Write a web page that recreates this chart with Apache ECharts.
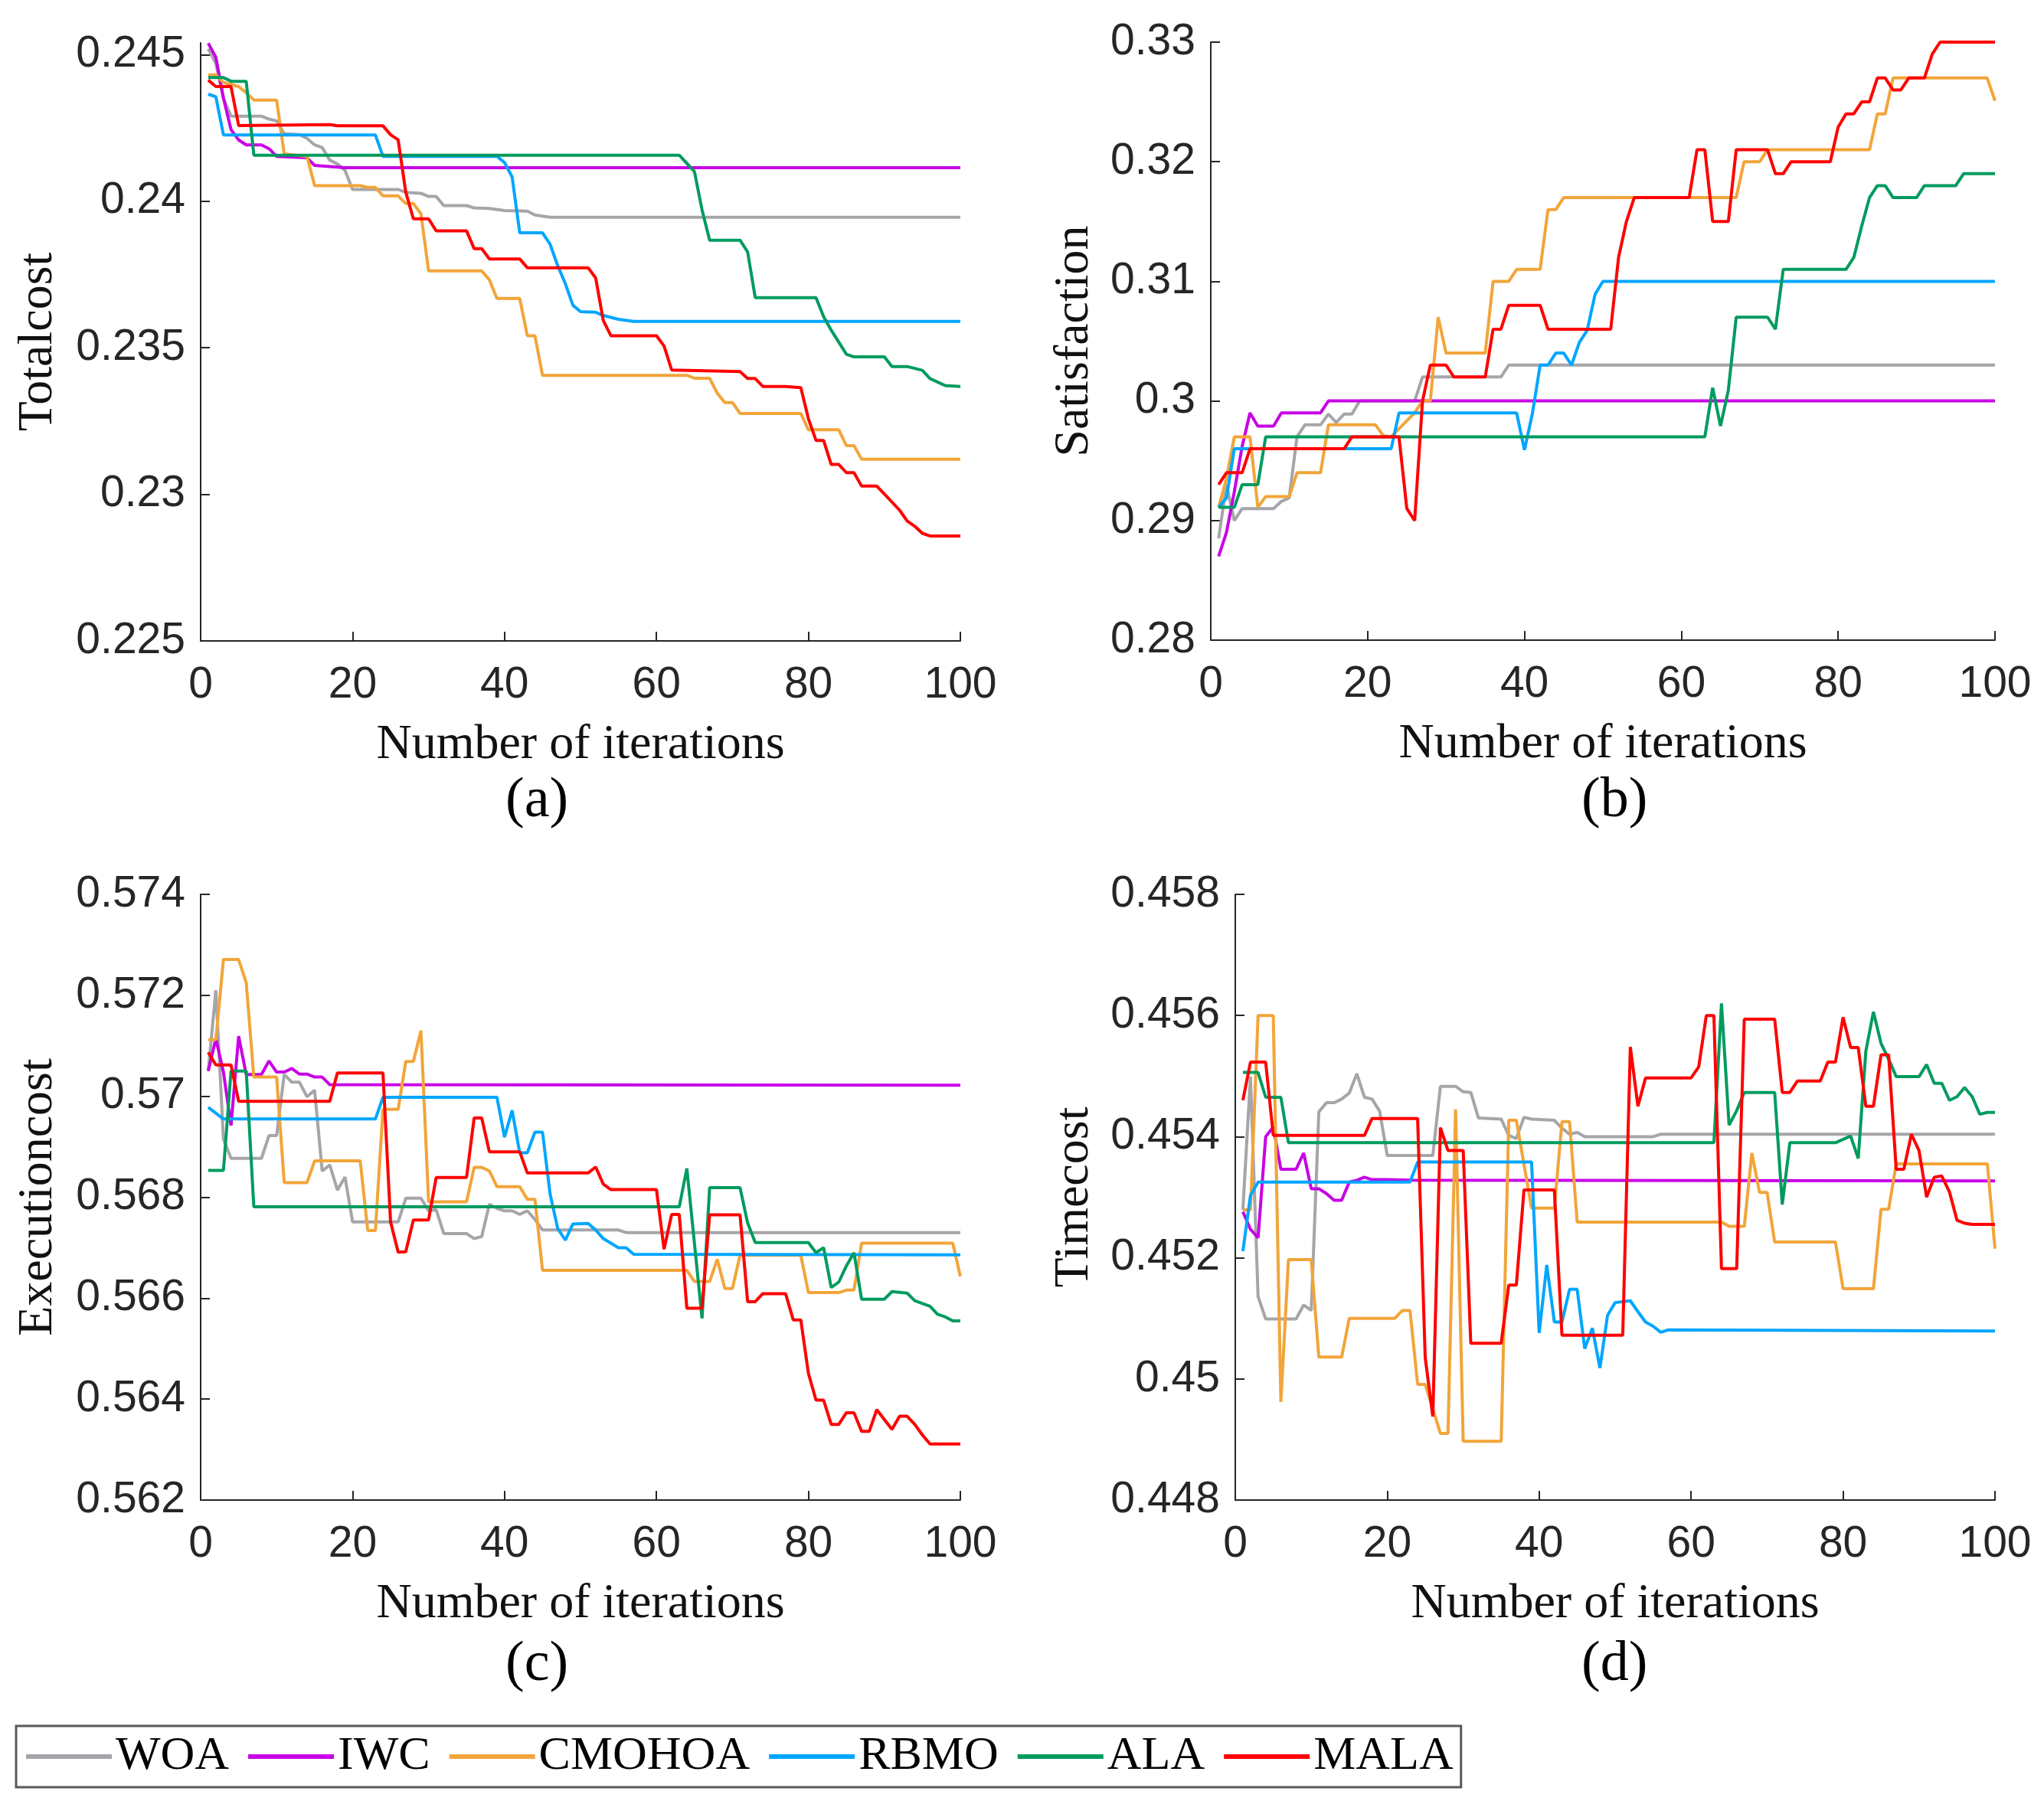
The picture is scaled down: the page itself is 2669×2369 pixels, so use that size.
<!DOCTYPE html>
<html>
<head>
<meta charset="utf-8">
<title>Convergence curves</title>
<script src="https://cdn.jsdelivr.net/npm/echarts@6.0.0/dist/echarts.min.js"></script>
<style>
html,body{margin:0;padding:0;background:#fff;}
#main{width:2669px;height:2369px;}
</style>
</head>
<body>
<div id="main"></div>
<script>
// algorithm names, drawing order = legend order
var algNames = ['WOA', 'IWC', 'CMOHOA', 'RBMO', 'ALA', 'MALA'];

// y tick labels per panel
var ticksTotal = [0.225, 0.23, 0.235, 0.24, 0.245];
var ticksSatis = [0.28, 0.29, 0.3, 0.31, 0.32, 0.33];
var ticksExec = [0.562, 0.564, 0.566, 0.568, 0.57, 0.572, 0.574];
var ticksTime = [0.448, 0.45, 0.452, 0.454, 0.456, 0.458];
var ticksIter = [0, 20, 40, 60, 80, 100];

// (a) Totalcost  -- [iteration, value]
var totalWOA = [[1,0.2452],[2,0.2447],[3,0.2435],[4,0.2429],[8,0.2429],[9,0.2428],[10,0.24274],[11,0.2423],[13,0.24227],[14,0.24214],[15,0.24192],[16,0.24183],[17,0.2414],[18,0.24127],[19,0.24105],[20,0.2404],[26,0.2404],[27,0.2403],[29,0.24027],[30,0.24016],[31,0.24016],[32,0.23985],[35,0.23985],[36,0.23977],[38,0.23975],[40,0.23968],[43,0.23966],[44,0.23953],[46,0.23945],[100,0.23945]];
var totalIWC = [[1,0.24539],[2,0.24491],[3,0.24352],[4,0.24244],[5,0.24209],[6,0.24192],[8,0.24192],[9,0.24179],[10,0.24153],[14,0.24148],[15,0.24122],[17,0.24118],[19,0.24114],[100,0.24114]];
var totalCMOHOA = [[1,0.24431],[2,0.24431],[3,0.24405],[5,0.24391],[6,0.2437],[7,0.24345],[10,0.24345],[11,0.24161],[14,0.24153],[15,0.24053],[21,0.24053],[22,0.24047],[23,0.24047],[24,0.24018],[26,0.24018],[27,0.23992],[28,0.23992],[29,0.23957],[30,0.23762],[37,0.23762],[38,0.23732],[39,0.23668],[42,0.23668],[43,0.23541],[44,0.23541],[45,0.23406],[64,0.23406],[65,0.23396],[67,0.23396],[68,0.23345],[69,0.23313],[70,0.23313],[71,0.23276],[79,0.23276],[80,0.2322],[84,0.2322],[85,0.23166],[86,0.23166],[87,0.2312],[100,0.2312]];
var totalRBMO = [[1,0.24365],[2,0.24356],[3,0.24226],[23,0.24226],[24,0.24153],[39,0.24153],[40,0.24132],[41,0.24083],[42,0.23892],[45,0.23892],[46,0.23853],[47,0.2378],[48,0.23719],[49,0.23645],[50,0.23623],[52,0.23621],[53,0.2361],[55,0.23597],[57,0.2359],[100,0.2359]];
var totalALA = [[1,0.24422],[3,0.24422],[4,0.24409],[6,0.24409],[7,0.24157],[63,0.24157],[65,0.24101],[66,0.2397],[67,0.23867],[71,0.23867],[72,0.23827],[73,0.23671],[81,0.23671],[82,0.23606],[83,0.2356],[85,0.23478],[86,0.23469],[90,0.23469],[91,0.23436],[93,0.23436],[95,0.23423],[96,0.23395],[98,0.23371],[100,0.23368]];
var totalMALA = [[1,0.24413],[2,0.24391],[4,0.24391],[5,0.24258],[17,0.24261],[18,0.24257],[24,0.24257],[25,0.24227],[26,0.24209],[27,0.24031],[28,0.2394],[30,0.2394],[31,0.23899],[35,0.23899],[36,0.23838],[37,0.23838],[38,0.23803],[42,0.23803],[43,0.23773],[51,0.23773],[52,0.23738],[53,0.23593],[54,0.23541],[60,0.23541],[61,0.23506],[62,0.23424],[71,0.23419],[72,0.23395],[73,0.23395],[74,0.23368],[77,0.23368],[79,0.23364],[80,0.23258],[81,0.23184],[82,0.23184],[83,0.23102],[84,0.23102],[85,0.23074],[86,0.23074],[87,0.23028],[89,0.23028],[90,0.23001],[92,0.22946],[93,0.22909],[94,0.22891],[95,0.22867],[96,0.22858],[100,0.22858]];

// (b) Satisfaction
var satisWOA = [[1,0.2885],[2,0.293],[3,0.29],[4,0.291],[8,0.291],[9,0.2916],[10,0.2919],[11,0.297],[12,0.298],[14,0.298],[15,0.2989],[16,0.2982],[17,0.2989],[18,0.2989],[19,0.3],[26,0.3],[27,0.302],[37,0.302],[38,0.303],[100,0.303]];
var satisIWC = [[1,0.287],[2,0.289],[3,0.2924],[4,0.2962],[5,0.299],[6,0.2979],[8,0.2979],[9,0.299],[14,0.299],[15,0.3],[100,0.3]];
var satisCMOHOA = [[1,0.2911],[2,0.2935],[3,0.297],[5,0.297],[6,0.2911],[7,0.292],[10,0.292],[11,0.294],[14,0.294],[15,0.298],[21,0.298],[22,0.2971],[23,0.297],[26,0.299],[27,0.3],[28,0.3],[29,0.307],[30,0.304],[35,0.304],[36,0.31],[38,0.31],[39,0.311],[42,0.311],[43,0.316],[44,0.316],[45,0.317],[67,0.317],[68,0.32],[70,0.32],[71,0.321],[84,0.321],[85,0.324],[86,0.324],[87,0.327],[99,0.327],[100,0.3251]];
var satisRBMO = [[1,0.2911],[2,0.2919],[3,0.296],[23,0.296],[24,0.299],[39,0.299],[40,0.2959],[41,0.2989],[42,0.303],[43,0.303],[44,0.304],[45,0.304],[46,0.303],[47,0.3049],[48,0.3059],[49,0.3089],[50,0.31],[100,0.31]];
var satisALA = [[1,0.2911],[3,0.2911],[4,0.293],[6,0.293],[7,0.297],[63,0.297],[64,0.3011],[65,0.2979],[66,0.3009],[67,0.307],[71,0.307],[72,0.306],[73,0.311],[81,0.311],[82,0.312],[83,0.3146],[84,0.317],[85,0.318],[86,0.318],[87,0.317],[90,0.317],[91,0.318],[95,0.318],[96,0.319],[100,0.319]];
var satisMALA = [[1,0.293],[2,0.294],[4,0.294],[5,0.296],[17,0.296],[18,0.297],[24,0.297],[25,0.291],[26,0.29],[27,0.3],[28,0.303],[30,0.303],[31,0.302],[35,0.302],[36,0.306],[37,0.306],[38,0.308],[42,0.308],[43,0.306],[51,0.306],[52,0.312],[53,0.315],[54,0.317],[61,0.317],[62,0.321],[63,0.321],[64,0.315],[66,0.315],[67,0.321],[71,0.321],[72,0.319],[73,0.319],[74,0.32],[79,0.32],[80,0.3229],[81,0.324],[82,0.324],[83,0.325],[84,0.325],[85,0.327],[86,0.327],[87,0.326],[88,0.326],[89,0.327],[91,0.327],[92,0.329],[93,0.33],[100,0.33]];

// (c) Executioncost
var execWOA = [[1,0.5705],[2,0.5721],[3,0.56915],[4,0.56877],[8,0.56877],[9,0.56922],[10,0.56922],[11,0.57043],[12,0.57028],[13,0.57028],[14,0.56999],[15,0.57012],[16,0.56852],[17,0.56864],[18,0.56814],[19,0.5684],[20,0.56751],[26,0.56751],[27,0.56798],[29,0.56798],[30,0.56773],[31,0.56775],[32,0.56728],[35,0.56728],[36,0.56718],[37,0.56722],[38,0.56786],[39,0.56778],[40,0.56773],[41,0.56773],[42,0.56766],[43,0.56773],[44,0.56756],[45,0.56735],[55,0.56735],[56,0.5673],[100,0.5673]];
var execIWC = [[1,0.5705],[2,0.57114],[3,0.57048],[4,0.56942],[5,0.57119],[6,0.57043],[8,0.57043],[9,0.5707],[10,0.57048],[11,0.57048],[12,0.57055],[13,0.57044],[14,0.57044],[15,0.57038],[16,0.57038],[17,0.57023],[100,0.57022]];
var execCMOHOA = [[1,0.57112],[2,0.57112],[3,0.57271],[5,0.57271],[6,0.57225],[7,0.57038],[10,0.57038],[11,0.56829],[14,0.56829],[15,0.56872],[21,0.56872],[22,0.56734],[23,0.56734],[24,0.56974],[26,0.56974],[27,0.57069],[28,0.57069],[29,0.5713],[30,0.56791],[35,0.56791],[36,0.56859],[37,0.56859],[38,0.56852],[39,0.56821],[42,0.56821],[43,0.56796],[44,0.56796],[45,0.56655],[64,0.56655],[65,0.56633],[67,0.56633],[68,0.56677],[69,0.56619],[70,0.56619],[71,0.56685],[79,0.56685],[80,0.56611],[84,0.56611],[85,0.56616],[86,0.56616],[87,0.56709],[99,0.56709],[100,0.56643]];
var execRBMO = [[1,0.56978],[3,0.56955],[23,0.56955],[24,0.56998],[39,0.56998],[40,0.56919],[41,0.56972],[42,0.56888],[43,0.56888],[44,0.56929],[45,0.56929],[46,0.56806],[47,0.56738],[48,0.56715],[49,0.56747],[51,0.56748],[52,0.56735],[53,0.56718],[55,0.567],[56,0.567],[57,0.56687],[100,0.56686]];
var execALA = [[1,0.56853],[3,0.56853],[4,0.5705],[6,0.5705],[7,0.56781],[63,0.56781],[64,0.56857],[66,0.5656],[67,0.56819],[71,0.56819],[72,0.56749],[73,0.5671],[80,0.5671],[81,0.5669],[82,0.567],[83,0.56621],[84,0.56632],[85,0.56664],[86,0.5669],[87,0.56598],[90,0.56598],[91,0.56613],[93,0.5661],[94,0.56595],[96,0.56584],[97,0.56568],[98,0.56563],[99,0.56555],[100,0.56555]];
var execMALA = [[1,0.57087],[2,0.57062],[4,0.57062],[5,0.5699],[17,0.5699],[18,0.57046],[24,0.57046],[25,0.56751],[26,0.56691],[27,0.56692],[28,0.56755],[30,0.56755],[31,0.56839],[35,0.56839],[36,0.56957],[37,0.56957],[38,0.5689],[42,0.5689],[43,0.56848],[51,0.56848],[52,0.5686],[53,0.56826],[54,0.56815],[60,0.56815],[61,0.56697],[62,0.56766],[63,0.56766],[64,0.5658],[66,0.5658],[67,0.56765],[71,0.56765],[72,0.56593],[73,0.56593],[74,0.56609],[77,0.56609],[78,0.56557],[79,0.56557],[80,0.56451],[81,0.56398],[82,0.56398],[83,0.5635],[84,0.5635],[85,0.56373],[86,0.56373],[87,0.56336],[88,0.56336],[89,0.56379],[91,0.5634],[92,0.56366],[93,0.56366],[94,0.5635],[95,0.56329],[96,0.56311],[100,0.56311]];

// (d) Timecost
var timeWOA = [[1,0.45279],[2,0.45499],[3,0.45136],[4,0.45099],[8,0.45099],[9,0.45122],[10,0.45113],[11,0.45441],[12,0.45456],[13,0.45456],[14,0.45462],[15,0.45472],[16,0.45504],[17,0.45465],[18,0.45462],[19,0.45442],[20,0.45369],[26,0.45369],[27,0.45483],[29,0.45483],[30,0.45474],[31,0.45473],[32,0.45431],[35,0.45429],[36,0.45402],[37,0.45397],[38,0.45432],[39,0.45429],[42,0.45427],[43,0.45414],[44,0.45404],[45,0.45407],[46,0.454],[55,0.454],[56,0.45404],[100,0.45404]];
var timeIWC = [[1,0.45276],[2,0.45247],[3,0.45233],[4,0.454],[5,0.45416],[6,0.45346],[8,0.45346],[9,0.45373],[10,0.45314],[11,0.45314],[12,0.45306],[13,0.45295],[14,0.45295],[15,0.45325],[16,0.45328],[17,0.45333],[18,0.45329],[20,0.45329],[23,0.45328],[100,0.45327]];
var timeCMOHOA = [[1,0.45279],[2,0.45279],[3,0.456],[5,0.456],[6,0.44962],[7,0.45197],[10,0.45197],[11,0.45036],[14,0.45036],[15,0.451],[21,0.451],[22,0.45113],[23,0.45113],[24,0.44991],[25,0.44991],[27,0.4491],[28,0.4491],[29,0.45445],[30,0.44897],[35,0.44897],[36,0.45427],[37,0.45427],[39,0.45282],[42,0.45282],[43,0.45425],[44,0.45425],[45,0.45259],[64,0.45259],[65,0.45252],[67,0.45252],[68,0.45373],[69,0.45308],[70,0.45308],[71,0.45226],[79,0.45226],[80,0.45149],[84,0.45149],[85,0.4528],[86,0.4528],[87,0.45355],[99,0.45355],[100,0.45215]];
var timeRBMO = [[1,0.45211],[2,0.45303],[3,0.45325],[23,0.45325],[24,0.45358],[39,0.45358],[40,0.45076],[41,0.45188],[42,0.45094],[43,0.45094],[44,0.45148],[45,0.45148],[46,0.4505],[47,0.45084],[48,0.45018],[49,0.45105],[50,0.45126],[52,0.45129],[53,0.45111],[54,0.45094],[55,0.45087],[56,0.45077],[57,0.45081],[100,0.45079]];
var timeALA = [[1,0.45506],[3,0.45506],[4,0.45465],[6,0.45465],[7,0.4539],[63,0.4539],[64,0.4562],[65,0.45419],[66,0.45443],[67,0.45473],[71,0.45473],[72,0.45288],[73,0.4539],[79,0.4539],[81,0.45401],[82,0.45364],[83,0.45541],[84,0.45606],[85,0.45554],[86,0.45528],[87,0.45499],[90,0.45499],[91,0.45519],[92,0.45488],[93,0.45488],[94,0.4546],[95,0.45466],[96,0.45481],[97,0.45466],[98,0.45437],[99,0.4544],[100,0.4544]];
var timeMALA = [[1,0.4546],[2,0.45523],[4,0.45523],[5,0.45402],[17,0.45402],[18,0.4543],[24,0.4543],[25,0.45035],[26,0.44938],[27,0.45415],[28,0.45377],[30,0.45377],[31,0.45059],[35,0.45059],[36,0.45155],[37,0.45155],[38,0.45312],[42,0.45312],[43,0.45072],[51,0.45072],[52,0.45548],[53,0.4545],[54,0.45497],[60,0.45497],[61,0.45515],[62,0.456],[63,0.456],[64,0.45182],[66,0.45182],[67,0.45594],[71,0.45594],[72,0.45473],[73,0.45473],[74,0.45492],[77,0.45492],[78,0.45523],[79,0.45523],[80,0.45597],[81,0.45547],[82,0.45547],[83,0.4545],[84,0.4545],[85,0.45535],[86,0.45535],[87,0.45346],[88,0.45346],[89,0.45404],[90,0.45377],[91,0.453],[92,0.45333],[93,0.45335],[94,0.45309],[95,0.45262],[96,0.45257],[97,0.45255],[100,0.45255]];

var chartDom = document.getElementById('main');
var myChart = echarts.init(chartDom, null, {renderer: 'canvas'});

var algColors = ['#A5A5AA', '#C800E6', '#F2A53A', '#00A6FF', '#009B5F', '#FF0000'];
var axisColor = '#262626';
var sansFont = '"Liberation Sans", Arial, sans-serif';
var serifFont = '"Liberation Serif", "Times New Roman", serif';

var panels = [
    {yName: 'Totalcost', ticks: ticksTotal, yMin: 0.225, yMax: 0.2454, tag: '(a)',
     lines: [totalWOA, totalIWC, totalCMOHOA, totalRBMO, totalALA, totalMALA],
     grid: {left: 262, top: 56, width: 992, height: 781}, nameGap: 180, tagX: 700, tagY: 1052},
    {yName: 'Satisfaction', ticks: ticksSatis, yMin: 0.28, yMax: 0.33, tag: '(b)',
     lines: [satisWOA, satisIWC, satisCMOHOA, satisRBMO, satisALA, satisMALA],
     grid: {left: 1581, top: 55, width: 1024, height: 781}, nameGap: 146, tagX: 2105, tagY: 1052},
    {yName: 'Executioncost', ticks: ticksExec, yMin: 0.562, yMax: 0.574, tag: '(c)',
     lines: [execWOA, execIWC, execCMOHOA, execRBMO, execALA, execMALA],
     grid: {left: 262, top: 1168, width: 992, height: 791}, nameGap: 180, tagX: 700, tagY: 2180},
    {yName: 'Timecost', ticks: ticksTime, yMin: 0.448, yMax: 0.458, tag: '(d)',
     lines: [timeWOA, timeIWC, timeCMOHOA, timeRBMO, timeALA, timeMALA],
     grid: {left: 1613, top: 1168, width: 992, height: 791}, nameGap: 178, tagX: 2105, tagY: 2180}
];

var grids = [], xAxes = [], yAxes = [], series = [], tags = [];
for (var p = 0; p < panels.length; p++) {
    var pn = panels[p];
    grids.push(pn.grid);
    xAxes.push({
        type: 'value', gridIndex: p, min: 0, max: 100,
        axisLabel: {customValues: ticksIter, margin: 30, fontFamily: sansFont, fontSize: 57, color: axisColor},
        axisTick: {customValues: ticksIter, inside: true, length: 12, lineStyle: {color: axisColor, width: 2}},
        axisLine: {onZero: false, lineStyle: {color: axisColor, width: 2}},
        splitLine: {show: false},
        name: 'Number of iterations', nameLocation: 'middle', nameGap: 104,
        nameTextStyle: {fontFamily: serifFont, fontSize: 64, color: '#111'}
    });
    yAxes.push({
        type: 'value', gridIndex: p, min: pn.yMin, max: pn.yMax,
        axisLabel: {customValues: pn.ticks, margin: 20, fontFamily: sansFont, fontSize: 57, color: axisColor},
        axisTick: {customValues: pn.ticks, inside: true, length: 12, lineStyle: {color: axisColor, width: 2}},
        axisLine: {show: true, onZero: false, lineStyle: {color: axisColor, width: 2}},
        splitLine: {show: false},
        name: pn.yName, nameLocation: 'middle', nameGap: pn.nameGap,
        nameTextStyle: {fontFamily: serifFont, fontSize: 64, color: '#111'}
    });
    for (var k = 0; k < algNames.length; k++) {
        series.push({
            name: algNames[k],
            type: 'line',
            xAxisIndex: p,
            yAxisIndex: p,
            data: pn.lines[k],
            symbol: 'none',
            showSymbol: false,
            animation: false,
            z: 2 + k,
            itemStyle: {color: algColors[k]},
            lineStyle: {color: algColors[k], width: 4}
        });
    }
    tags.push({
        type: 'text', left: pn.tagX - 40, top: pn.tagY - 42,
        style: {text: pn.tag, fontFamily: serifFont, fontSize: 74, fill: '#000', align: 'left'}
    });
}

var option = {
    backgroundColor: '#fff',
    animation: false,
    color: algColors,
    grid: grids,
    xAxis: xAxes,
    yAxis: yAxes,
    legend: {
        data: algNames,
        left: 21,
        top: 2254,
        orient: 'horizontal',
        icon: 'rect',
        itemWidth: 112,
        itemHeight: 6,
        itemGap: 25,
        padding: [9, 10, 9, 13],
        borderColor: '#595959',
        borderWidth: 3,
        textStyle: {fontFamily: serifFont, fontSize: 62, lineHeight: 62, color: '#000'}
    },
    graphic: tags,
    series: series
};
myChart.setOption(option, true);
</script>
</body>
</html>
